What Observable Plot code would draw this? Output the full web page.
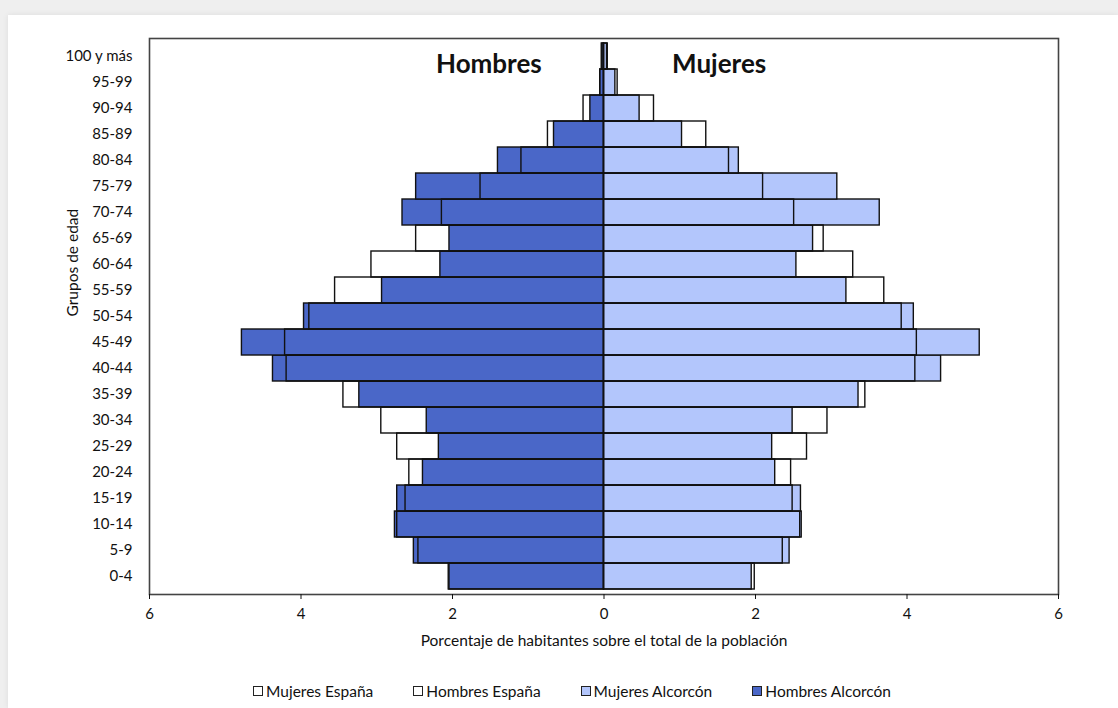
<!DOCTYPE html>
<html>
<head>
<meta charset="utf-8">
<script src="https://cdn.jsdelivr.net/npm/d3@7"></script>
<script src="https://cdn.jsdelivr.net/npm/@observablehq/plot@0.6"></script>
<style>
  html, body { margin: 0; padding: 0; }
  body { width: 1118px; height: 708px; background: #efefef; position: relative; overflow: hidden; font-family: Lato, "Noto Sans", sans-serif; }
  #panel { position: absolute; left: 8px; top: 15px; width: 1110px; height: 693px; background: #fff; box-shadow: 0 0 6px rgba(0,0,0,0.08); }
  #legend { display: flex; justify-content: center; gap: 40px; margin-top: 7px; font-size: 15.5px; color: #111; padding-left: 18px; }
  .item { display: flex; align-items: center; gap: 3px; }
  .sw { width: 10px; height: 10px; border: 1px solid #222; box-sizing: border-box; display: inline-block; }
</style>
</head>
<body>
<div id="panel"></div>
<script>
const ages = ["0-4","5-9","10-14","15-19","20-24","25-29","30-34","35-39","40-44","45-49","50-54","55-59","60-64","65-69","70-74","75-79","80-84","85-89","90-94","95-99","100 y más"];
const hombresAlcorcon = [2.04, 2.51, 2.76, 2.73, 2.39, 2.18, 2.34, 3.23, 4.37, 4.78, 3.96, 2.93, 2.16, 2.04, 2.66, 2.48, 1.40, 0.66, 0.18, 0.05, 0.03];
const hombresEspana   = [2.05, 2.45, 2.73, 2.62, 2.57, 2.73, 2.94, 3.44, 4.19, 4.21, 3.89, 3.55, 3.07, 2.48, 2.14, 1.63, 1.09, 0.74, 0.27, 0.05, 0.02];
const mujeresAlcorcon = [1.95, 2.45, 2.61, 2.60, 2.26, 2.22, 2.49, 3.36, 4.45, 4.96, 4.09, 3.20, 2.54, 2.76, 3.64, 3.08, 1.78, 1.03, 0.47, 0.15, 0.04];
const mujeresEspana   = [1.99, 2.36, 2.59, 2.49, 2.47, 2.68, 2.95, 3.45, 4.11, 4.13, 3.93, 3.70, 3.29, 2.90, 2.51, 2.10, 1.65, 1.35, 0.66, 0.18, 0.05];
const xTicks = [-6, -4, -2, 0, 2, 4, 6];
const sexLabels = [{x: -1.52, text: "Hombres"}, {x: 1.52, text: "Mujeres"}];
const xLabel = "Porcentaje de habitantes sobre el total de la población";
const yLabel = "Grupos de edad";
const legendItems = [
  {label: "Mujeres España", fill: "#ffffff"},
  {label: "Hombres España", fill: "#ffffff"},
  {label: "Mujeres Alcorcón", fill: "#b3c6fc"},
  {label: "Hombres Alcorcón", fill: "#4a67c8"}
];

const rows = [];
ages.forEach((a, i) => {
  rows.push({age: a, series: "Hombres Alcorcón", x1: -hombresAlcorcon[i], x2: 0, kind: "alc", fill: "#4a67c8"});
  rows.push({age: a, series: "Mujeres Alcorcón", x1: 0, x2: mujeresAlcorcon[i], kind: "alc", fill: "#b3c6fc"});
  rows.push({age: a, series: "Hombres España", x1: -hombresEspana[i], x2: 0, kind: "esp"});
  rows.push({age: a, series: "Mujeres España", x1: 0, x2: mujeresEspana[i], kind: "esp"});
});
const domainY = ages.slice().reverse();

const chart = Plot.plot({
  width: 1110,
  height: 660,
  marginLeft: 141,
  marginRight: 60,
  marginTop: 23,
  marginBottom: 81,
  style: {fontFamily: "Lato, 'Noto Sans', sans-serif", fontSize: "15px", color: "#111", background: "transparent"},
  x: {domain: [-6, 6]},
  y: {domain: domainY, padding: 0},
  marks: [
    Plot.barX(rows.filter(d => d.kind === "alc"), {y: "age", x1: "x1", x2: "x2", fill: "fill", stroke: "#111", strokeWidth: 1.4}),
    Plot.barX(rows.filter(d => d.kind === "esp"), {y: "age", x1: "x1", x2: "x2", fill: "none", stroke: "#111", strokeWidth: 1.4}),
    Plot.frame({stroke: "#444", strokeWidth: 1.6}),
    Plot.axisX({ticks: xTicks, tickFormat: d => Math.abs(d), tickSize: 5, tickPadding: 9, fontSize: 15, label: null}),
    Plot.axisY({tickSize: 0, tickPadding: 17, fontSize: 15, label: null}),
    Plot.text([xLabel], {frameAnchor: "bottom", dy: 51, text: d => d, fontSize: 15.5, fill: "#111"}),
    Plot.text([yLabel], {frameAnchor: "left", dx: -76, rotate: -90, text: d => d, fontSize: 15.5, fill: "#111"}),
    Plot.text(sexLabels, {x: "x", y: () => "100 y más", dy: 8, text: "text", fontSize: 26, fontWeight: "bold", fill: "#111"})
  ]
});
const panel = document.getElementById("panel");
panel.appendChild(chart);
const legend = document.createElement("div");
legend.id = "legend";
for (const it of legendItems) {
  const el = document.createElement("div");
  el.className = "item";
  const sw = document.createElement("span");
  sw.className = "sw";
  sw.style.background = it.fill;
  el.appendChild(sw);
  el.appendChild(document.createTextNode(it.label));
  legend.appendChild(el);
}
panel.appendChild(legend);
</script>
</body>
</html>
